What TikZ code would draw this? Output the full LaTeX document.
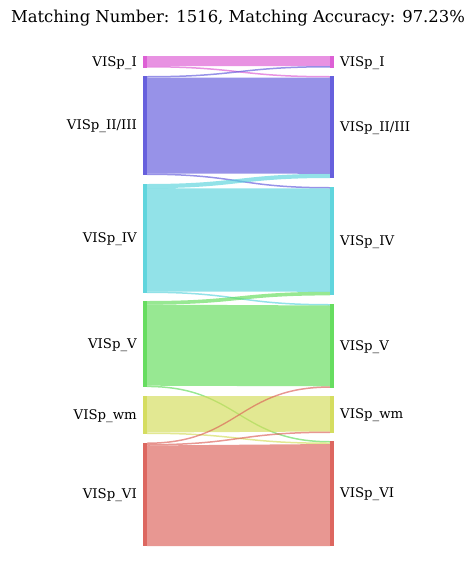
\documentclass[tikz,border=0pt]{standalone}
\usepackage{fontspec}
\setmainfont{DejaVu Serif}
\usepackage{xcolor}
\definecolor{cI}{HTML}{DB57D3}
\definecolor{cII}{HTML}{5F57DB}
\definecolor{cIV}{HTML}{57D3DB}
\definecolor{cV}{HTML}{5FDB57}
\definecolor{cwm}{HTML}{D3DB57}
\definecolor{cVI}{HTML}{DB5F57}
\tikzset{
 band/.style={opacity=.65},
 bar/.style={opacity=.95},
 lab/.style={inner sep=0, yshift=-1pt, font=\fontsize{13.3}{16}\selectfont}
}

\begin{document}
\begin{tikzpicture}[x=1pt,y=-1pt]
\useasboundingbox (0,0) rectangle (476,581);
\node[inner sep=0, font=\fontsize{16.4}{20}\selectfont] (title) at (238,18) {Matching Number: 1516, Matching Accuracy: 97.23\%};
% flows: colour / left top / left bottom / right top / right bottom
\foreach \c/\a/\b/\p/\q in {
 cI/56/66/56/66, cI/66/67.5/76/77.5,
 cII/76/77.5/66/67.5, cII/77.5/173.5/77.5/173.8, cII/173.5/175/187/188.5,
 cIV/184/188.2/173.8/178, cIV/188.2/291.5/188.5/291.8, cIV/291.5/293/304/305.5,
 cV/301/304.6/291.8/295.4, cV/304.6/385.7/305.5/386.3, cV/385.7/387.2/441/442.5,
 cwm/396/432.5/396/431.5, cwm/432.5/434/442.5/444,
 cVI/442.5/444/386.3/387.8, cVI/444/445.5/431.5/433, cVI/445.5/546/444/546} {
 \fill[\c, band] (147,\a) .. controls (238.5,\a) and (238.5,\p) .. (330,\p) -- (330,\q) .. controls (238.5,\q) and (238.5,\b) .. (147,\b) -- cycle;
}
% left bars
\foreach \c/\t/\b/\n [count=\i] in {cI/56/67.5/I, cII/76/175/{II/III}, cIV/184/293/IV, cV/301/387.2/V, cwm/396/434/wm, cVI/442.5/546/VI} {
 \fill[\c, bar] (143,\t) rectangle (147,\b);
 \node[lab, anchor=east] (l\i) at (137,{(\t+\b)/2}) {VISp\_\n};
}
% right bars
\foreach \c/\t/\b/\n [count=\i] in {cI/56/67.5/I, cII/76/178/{II/III}, cIV/187/295.4/IV, cV/304/387.8/V, cwm/396/433/wm, cVI/441/546/VI} {
 \fill[\c, bar] (330,\t) rectangle (334,\b);
 \node[lab, anchor=west] (r\i) at (340,{(\t+\b)/2}) {VISp\_\n};
}
\end{tikzpicture}
\end{document}
